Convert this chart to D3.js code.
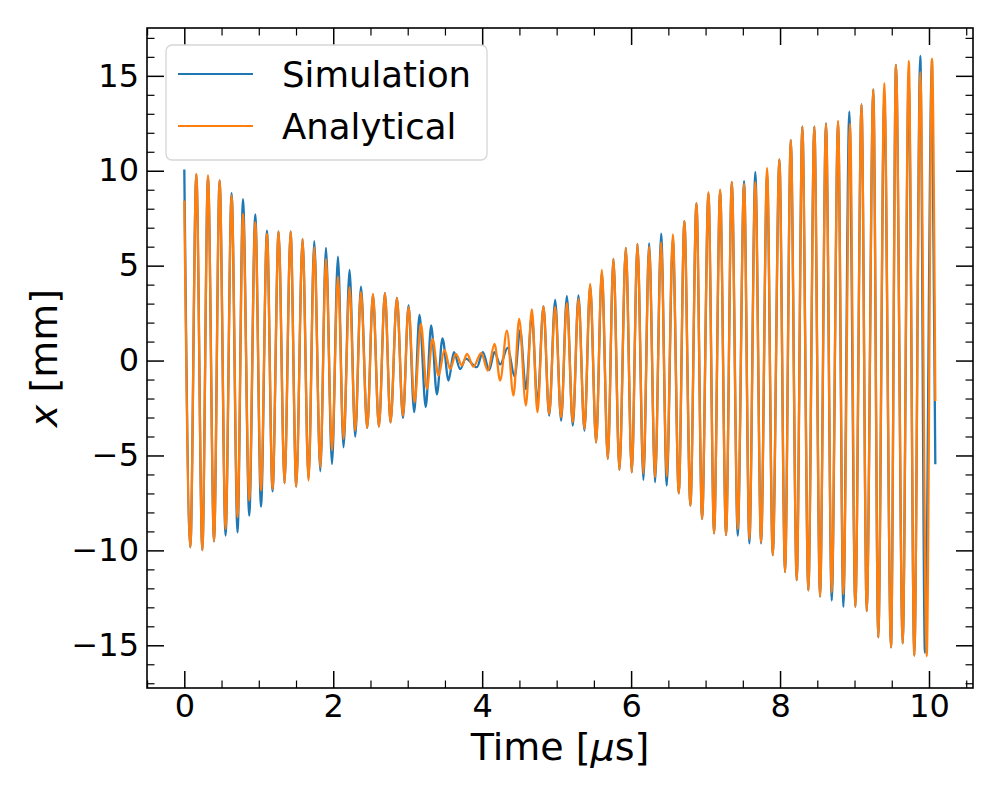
<!DOCTYPE html>
<html>
<head>
<meta charset="utf-8">
<script src="https://cdn.jsdelivr.net/npm/d3@7"></script>
<style>
  body { margin: 0; background: #fff; }
  svg { display: block; font-family: "DejaVu Sans", sans-serif; }
</style>
</head>
<body>
<svg id="chart"></svg>
<script>
// extrema (time in us, position in mm)
const anaTime = [0.0, 0.081, 0.161, 0.242, 0.318, 0.399, 0.474, 0.554, 0.635, 0.715,
  0.788, 0.872, 0.953, 1.030, 1.110, 1.185, 1.266, 1.346, 1.427, 1.503,
  1.588, 1.668, 1.745, 1.826, 1.902, 1.983, 2.063, 2.138, 2.219, 2.295,
  2.372, 2.456, 2.533, 2.613, 2.694, 2.769, 2.855, 2.936, 3.011, 3.091,
  3.177, 3.257, 3.333, 3.413, 3.494, 3.570, 3.647, 3.728, 3.795, 3.883,
  3.987, 4.077, 4.165, 4.242, 4.332, 4.420, 4.497, 4.587, 4.667, 4.742,
  4.823, 4.899, 4.980, 5.060, 5.137, 5.217, 5.293, 5.373, 5.450, 5.530,
  5.607, 5.687, 5.762, 5.843, 5.929, 6.009, 6.085, 6.165, 6.242, 6.322,
  6.403, 6.479, 6.560, 6.640, 6.715, 6.796, 6.877, 6.953, 7.038, 7.114,
  7.195, 7.275, 7.352, 7.432, 7.517, 7.588, 7.668, 7.745, 7.826, 7.902,
  7.991, 8.067, 8.144, 8.224, 8.299, 8.380, 8.460, 8.537, 8.617, 8.694,
  8.779, 8.850, 8.940, 9.011, 9.094, 9.164, 9.252, 9.319, 9.400, 9.490,
  9.557, 9.647, 9.728, 9.803, 9.883, 9.969, 10.040, 10.085];
const anaX = [8.43, -9.84, 9.84, -9.98, 9.75, -9.52, 9.49, -8.87, 8.70, -8.26,
  7.73, -7.38, 7.29, -6.85, 6.68, -6.77, 6.80, -6.47, 6.80, -6.64,
  6.41, -6.33, 5.97, -5.62, 5.36, -4.74, 4.43, -4.13, 3.87, -3.69,
  3.60, -3.55, 3.51, -3.48, 3.55, -3.25, 3.30, -2.90, 2.81, -2.20,
  1.93, -1.49, 1.14, -0.79, 0.56, -0.44, 0.35, -0.26, 0.35, -0.32,
  0.39, -0.53, 0.88, -1.05, 1.58, -1.85, 2.20, -2.37, 2.70, -2.72,
  2.85, -2.81, 2.81, -2.99, 3.02, -3.25, 3.25, -3.60, 4.04, -4.31,
  4.78, -5.18, 5.36, -5.76, 5.94, -5.89, 6.15, -5.94, 6.01, -6.15,
  6.24, -6.11, 6.64, -6.99, 7.34, -7.64, 8.29, -8.35, 8.87, -9.10,
  9.00, -9.19, 9.40, -8.87, 9.31, -9.40, 9.40, -9.58, 10.14, -10.25,
  10.60, -11.14, 11.61, -11.57, 12.32, -12.11, 12.32, -12.43, 12.47, -12.21,
  12.62, -12.32, 12.47, -12.97, 13.50, -13.20, 14.29, -14.58, 14.61, -15.11,
  15.58, -14.90, 15.79, -15.54, 15.19, -15.58, 15.90, -2.13];

const simTime = [0.0, 0.081, 0.161, 0.242, 0.318, 0.399, 0.474, 0.554, 0.635, 0.715,
  0.788, 0.872, 0.953, 1.030, 1.110, 1.185, 1.266, 1.346, 1.427, 1.503,
  1.588, 1.668, 1.745, 1.826, 1.902, 1.983, 2.063, 2.138, 2.219, 2.295,
  2.372, 2.456, 2.533, 2.613, 2.694, 2.769, 2.855, 2.936, 3.011, 3.087,
  3.158, 3.242, 3.315, 3.392, 3.467, 3.548, 3.620, 3.705, 3.779, 3.929,
  4.009, 4.094, 4.165, 4.242, 4.342, 4.436, 4.510, 4.587, 4.667, 4.742,
  4.823, 4.899, 4.980, 5.060, 5.137, 5.217, 5.293, 5.373, 5.450, 5.530,
  5.607, 5.687, 5.762, 5.843, 5.929, 6.009, 6.085, 6.165, 6.242, 6.322,
  6.403, 6.479, 6.560, 6.640, 6.715, 6.796, 6.877, 6.953, 7.038, 7.114,
  7.195, 7.275, 7.352, 7.432, 7.517, 7.588, 7.668, 7.745, 7.826, 7.902,
  7.991, 8.067, 8.144, 8.224, 8.299, 8.380, 8.460, 8.537, 8.617, 8.694,
  8.779, 8.850, 8.930, 9.011, 9.094, 9.164, 9.252, 9.319, 9.400, 9.490,
  9.557, 9.647, 9.728, 9.803, 9.883, 9.946, 10.040, 10.085];
const simX = [10.07, -9.84, 9.80, -9.98, 9.70, -9.52, 9.49, -9.22, 8.82, -9.05,
  8.50, -8.17, 7.70, -7.70, 6.85, -6.89, 6.80, -6.47, 6.80, -6.64,
  6.41, -6.24, 6.29, -5.83, 5.94, -5.45, 5.48, -4.57, 4.78, -4.01,
  3.90, -3.55, 3.46, -3.48, 3.55, -3.25, 3.30, -3.02, 2.90, -2.72,
  2.40, -2.45, 1.85, -1.78, 1.17, -1.05, 0.44, -0.45, 0.10, -0.35,
  0.44, -0.50, 0.44, -0.20, 0.67, -0.85, 1.60, -1.50, 2.37, -2.25,
  2.85, -2.90, 3.20, -3.16, 3.39, -3.43, 3.43, -3.69, 3.95, -4.31,
  4.65, -5.18, 5.36, -5.76, 5.94, -5.89, 6.15, -6.29, 6.19, -6.41,
  6.68, -6.59, 6.41, -6.99, 7.34, -7.64, 8.29, -8.35, 8.80, -9.10,
  8.95, -9.19, 9.40, -9.22, 9.45, -9.63, 9.93, -9.63, 9.84, -10.25,
  10.60, -11.14, 11.61, -11.57, 12.32, -12.11, 12.32, -12.43, 12.50, -12.64,
  12.56, -12.97, 13.11, -12.97, 13.50, -13.20, 14.29, -14.58, 13.86, -15.11,
  15.58, -14.90, 14.83, -15.54, 16.05, -15.40, 15.79, -5.46];

const xTicks = [0, 2, 4, 6, 8, 10];
const yTicks = [-15, -10, -5, 0, 5, 10, 15];
const seriesNames = ["Simulation", "Analytical"];
const seriesColors = ["#1f77b4", "#ff7f0e"];

const W = 1000, H = 800;
const margin = {top: 28, right: 27, bottom: 112, left: 147};
const plotW = W - margin.left - margin.right;
const plotH = H - margin.top - margin.bottom;

const svg = d3.select("#chart").attr("width", W).attr("height", H);
svg.append("rect").attr("width", W).attr("height", H).attr("fill", "#fff");

const g = svg.append("g").attr("transform", `translate(${margin.left},${margin.top})`);

const x = d3.scaleLinear().domain([-0.501, 10.591]).range([0, plotW]);
const y = d3.scaleLinear().domain([-17.25, 17.52]).range([plotH, 0]);

g.append("clipPath").attr("id", "clip")
  .append("rect").attr("width", plotW).attr("height", plotH);

const toPoints = (ts, vs) => ts.slice(0, Math.min(ts.length, vs.length)).map((t, i) => [t, vs[i]]);
const series = [toPoints(simTime, simX), toPoints(anaTime, anaX)];

const line = d3.line()
  .x(d => x(d[0]))
  .y(d => y(d[1]))
  .curve(d3.curveMonotoneX);

g.append("g").attr("clip-path", "url(#clip)")
  .selectAll("path")
  .data(series)
  .join("path")
  .attr("d", line)
  .attr("fill", "none")
  .attr("stroke", (d, i) => seriesColors[i])
  .attr("stroke-width", 2.3)
  .attr("stroke-linejoin", "round");

// ticks, pointing inward on all four sides
const majorLen = 17, minorLen = 7.5;
const xMinor = d3.range(-0.5, 10.51, 0.5).filter(v => !xTicks.includes(v));
const yMinor = d3.range(-17, 17.1, 1).filter(v => !yTicks.includes(v));
const fmt = d3.format("d");

function styleAxis(sel, width) {
  sel.select(".domain").remove();
  sel.selectAll("line").attr("stroke", "#000").attr("stroke-width", width);
  sel.selectAll("text").attr("fill", "#000").style("font-size", "32px").style("font-family", "DejaVu Sans, sans-serif");
}

g.append("g").attr("transform", `translate(0,${plotH})`)
  .call(d3.axisBottom(x).tickValues(xTicks).tickFormat(fmt).tickSize(-majorLen).tickPadding(6.5))
  .call(s => styleAxis(s, 1.5));
g.append("g").attr("transform", `translate(0,${plotH})`)
  .call(d3.axisBottom(x).tickValues(xMinor).tickFormat("").tickSize(-minorLen))
  .call(s => styleAxis(s, 1.2));
g.append("g")
  .call(d3.axisTop(x).tickValues(xTicks).tickFormat("").tickSize(-majorLen))
  .call(s => styleAxis(s, 1.5));
g.append("g")
  .call(d3.axisTop(x).tickValues(xMinor).tickFormat("").tickSize(-minorLen))
  .call(s => styleAxis(s, 1.2));

g.append("g")
  .call(d3.axisLeft(y).tickValues(yTicks).tickFormat(fmt).tickSize(-majorLen).tickPadding(8))
  .call(s => styleAxis(s, 1.5));
g.append("g")
  .call(d3.axisLeft(y).tickValues(yMinor).tickFormat("").tickSize(-minorLen))
  .call(s => styleAxis(s, 1.2));
g.append("g").attr("transform", `translate(${plotW},0)`)
  .call(d3.axisRight(y).tickValues(yTicks).tickFormat("").tickSize(-majorLen))
  .call(s => styleAxis(s, 1.5));
g.append("g").attr("transform", `translate(${plotW},0)`)
  .call(d3.axisRight(y).tickValues(yMinor).tickFormat("").tickSize(-minorLen))
  .call(s => styleAxis(s, 1.2));

g.append("rect")
  .attr("width", plotW).attr("height", plotH)
  .attr("fill", "none").attr("stroke", "#000").attr("stroke-width", 1.6);

// axis labels
const xLabel = svg.append("text")
  .attr("x", margin.left + plotW / 2).attr("y", 760)
  .attr("text-anchor", "middle")
  .style("font-size", "38px");
xLabel.append("tspan").text("Time [");
xLabel.append("tspan").style("font-style", "italic").text("\u03bc");
xLabel.append("tspan").text("s]");

const yLabel = svg.append("text")
  .attr("transform", `translate(57,${margin.top + plotH / 2}) rotate(-90)`)
  .attr("text-anchor", "middle")
  .style("font-size", "38px");
yLabel.append("tspan").style("font-style", "italic").text("x");
yLabel.append("tspan").text(" [mm]");

// legend
const legend = svg.append("g").attr("transform", "translate(166,45)");
legend.append("rect")
  .attr("width", 321).attr("height", 115).attr("rx", 6)
  .attr("fill", "#fff").attr("fill-opacity", 0.8)
  .attr("stroke", "#d6d6d6").attr("stroke-width", 1.3);

const rows = legend.selectAll("g.row")
  .data(seriesNames)
  .join("g")
  .attr("class", "row")
  .attr("transform", (d, i) => `translate(0,${29 + i * 52})`);
rows.append("line")
  .attr("x1", 12).attr("x2", 87)
  .attr("stroke", (d, i) => seriesColors[i])
  .attr("stroke-width", 2.1);
rows.append("text")
  .attr("x", 116).attr("y", 12.5)
  .style("font-size", "35.5px")
  .text(d => d);
</script>
</body>
</html>
